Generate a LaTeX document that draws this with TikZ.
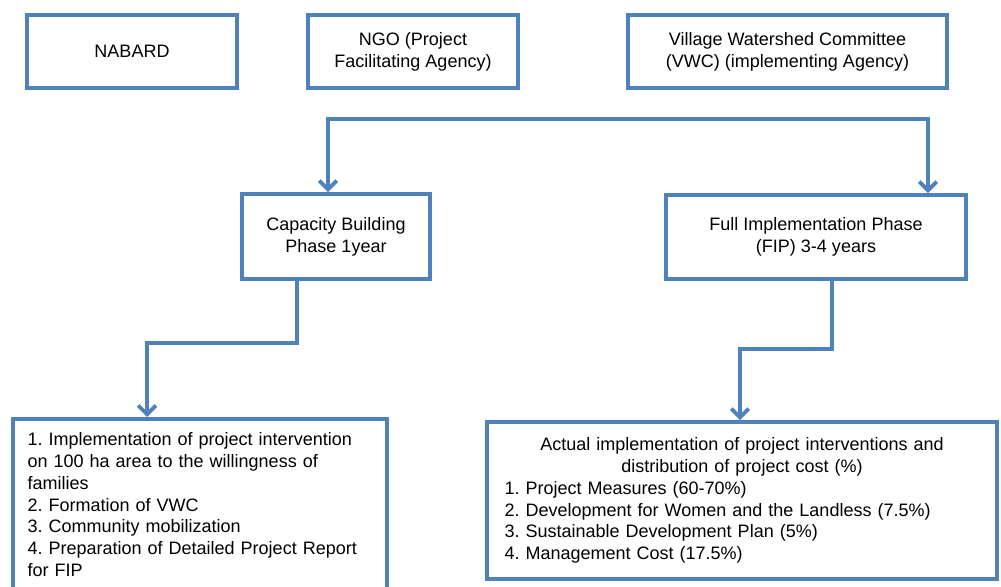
\documentclass[tikz,border=0pt]{standalone}
\usepackage{fontspec}
\setmainfont{Liberation Sans}
\usepackage{tikz}
\usetikzlibrary{arrows.meta}
\usetikzlibrary{calc}
\definecolor{boxblue}{RGB}{79,129,189}
\tikzset{>={Straight Barb[length=5pt,width=10pt]}}
\tikzset{box/.style = {shape=rectangle,draw=boxblue,line width=2.2pt,align=center,
                       font=\fontsize{10.25pt}{12.35pt}\selectfont\frenchspacing}}
\tikzset{flow/.style = {draw=boxblue,line width=2.2pt}}

\begin{document}
\begin{tikzpicture}[x=0.02cm,y=-0.02cm]
                    \useasboundingbox (0,0) rectangle (1001,586);

                    \node[box,minimum width=4.2cm,minimum height=1.46cm] (nabard) at (132,51.5) {NABARD};
                    \node[box,minimum width=4.2cm,minimum height=1.46cm] (ngo) at (413,51.5) {NGO (Project\\Facilitating Agency)};
                    \node[box,minimum width=6.38cm,minimum height=1.46cm] (vwc) at (787.5,51.5) {Village Watershed Committee\\(VWC) (implementing Agency)};

                    \node[box,minimum width=3.76cm,minimum height=1.7cm] (cbp) at (336,236.5) {Capacity Building\\Phase 1year};
                    \node[box,minimum width=6.0cm,minimum height=1.68cm] (fip) at (816,237) {Full Implementation Phase\\(FIP) 3-4 years};

                    \node[box,anchor=north,align=left,text width=6.9cm,inner xsep=0.29cm,inner ysep=0.28cm] (cbtasks) at (200,417)
                        {1. Implementation of project intervention\\on 100 ha area to the willingness of\\families\\2. Formation of VWC\\3. Community mobilization\\4. Preparation of Detailed Project Report\\for FIP\par\vspace*{0.8cm}};
                    \node[box,align=left,text width=9.5cm,inner xsep=0.35cm,minimum height=3.14cm] (fiptasks) at (742,500.5)
                        {{\centering Actual implementation of project interventions and\\distribution of project cost (\%)\par}
                         1. Project Measures (60-70\%)\\2. Development for Women and the Landless (7.5\%)\\3. Sustainable Development Plan (5\%)\\4. Management Cost (17.5\%)};

                    \coordinate (topl) at (328,119);
                    \coordinate (topr) at (928,119);

                    \draw[flow,<->] (topl |- cbp.north) -- (topl) -- (topr) -- (topr |- fip.north);
                    \draw[flow,->] ([xshift=-0.78cm]cbp.south) -- ++(0,-1.24cm) -| ([xshift=-1.06cm]cbtasks.north);
                    \draw[flow,->] ([xshift=0.32cm]fip.south) -- ++(0,-1.36cm) -| ([xshift=-0.04cm]fiptasks.north);
                \end{tikzpicture}
\end{document}
